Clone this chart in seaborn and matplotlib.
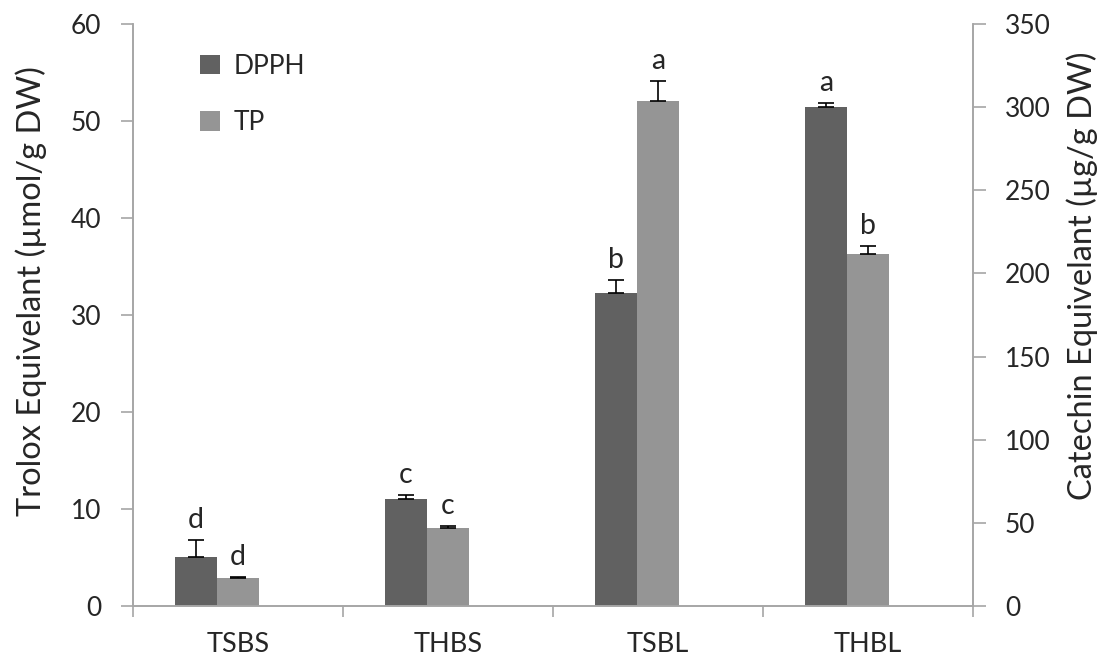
import matplotlib
matplotlib.use("Agg")
import matplotlib.pyplot as plt
import seaborn as sns
import pandas as pd
import numpy as np
from matplotlib.patches import Patch

categories = ["TSBS", "THBS", "TSBL", "THBL"]
dpph = [5.05, 11.0, 32.3, 51.4]
dpph_err = [1.75, 0.4, 1.3, 0.45]
dpph_letters = ["d", "c", "b", "a"]
tp = [16.9, 47.0, 303.7, 211.7]
tp_err = [0.6, 1.2, 12.0, 5.0]
tp_letters = ["d", "c", "a", "b"]

series_order = ["DPPH", "TP"]
# the original layout reserves an empty third slot in each group
slot_order = ["DPPH", "TP", "(empty)"]
colors = {"DPPH": "#616161", "TP": "#959595", "(empty)": "#ffffff"}

sns.set_style("white")
plt.rcParams["font.family"] = ["Lato", "DejaVu Sans"]

fig = plt.figure(figsize=(11.01, 6.64), dpi=100)
ax = fig.add_axes([133/1101, 58/664, 840/1101, 582/664])
ax2 = ax.twinx()

df1 = pd.DataFrame({"cat": categories, "val": dpph, "series": "DPPH"})
df2 = pd.DataFrame({"cat": categories, "val": tp, "series": "TP"})

sns.barplot(data=df1, x="cat", y="val", hue="series", hue_order=slot_order,
            order=categories, palette=colors, width=0.6, dodge=True, errorbar=None,
            legend=False, ax=ax, saturation=1, edgecolor="none")
sns.barplot(data=df2, x="cat", y="val", hue="series", hue_order=slot_order,
            order=categories, palette=colors, width=0.6, dodge=True, errorbar=None,
            legend=False, ax=ax2, saturation=1, edgecolor="none")

def decorate(axis, vals, errs, letters):
    bars = [p for p in axis.patches if p.get_height() > 0]
    bars = sorted(bars, key=lambda p: p.get_x())
    for p, v, e, l in zip(bars, vals, errs, letters):
        xc = p.get_x() + p.get_width() / 2
        axis.errorbar(xc, v, yerr=[[0], [e]], fmt="none", ecolor="black",
                      elinewidth=1.2, capsize=6, capthick=1.2)
        axis.annotate(l, (xc, v + e), xytext=(0, 5), textcoords="offset points",
                      ha="center", va="bottom", fontsize=20.5)

decorate(ax, dpph, dpph_err, dpph_letters)
decorate(ax2, tp, tp_err, tp_letters)

ax.set_xlim(-0.5, 3.5)
ax.set_ylim(0, 60)
ax2.set_ylim(0, 350)
ax.set_yticks(np.arange(0, 61, 10))
ax2.set_yticks(np.arange(0, 351, 50))

spine_color = "#a6a6a6"
for a in (ax, ax2):
    for s in a.spines.values():
        s.set_color(spine_color)
        s.set_linewidth(1.2)
    a.spines["top"].set_visible(False)

ax.tick_params(axis="y", direction="out", length=9, width=1.2, color=spine_color,
               labelsize=19, pad=14, left=True)
ax2.tick_params(axis="y", direction="out", length=9, width=1.2, color=spine_color,
                labelsize=19, pad=14, right=True)
ax.tick_params(axis="x", which="major", length=0, labelsize=19.5, pad=19)
ax.set_xticks(np.arange(-0.5, 3.6, 1.0), minor=True)
ax.tick_params(axis="x", which="minor", direction="out", length=8, width=1.2,
               color=spine_color, bottom=True)

ax.set_xlabel("")
ax.set_ylabel("Trolox Equivelant (µmol/g DW)", fontsize=23.5)
ax2.set_ylabel("Catechin Equivelant (µg/g DW)", fontsize=23.5, rotation=90)
ax.yaxis.set_label_coords(-0.1024, 0.541)
ax2.yaxis.set_label_coords(1.1107, 0.567)

handles = [Patch(facecolor=colors[s], edgecolor="none") for s in series_order]
ax2.legend(handles, series_order, loc="upper left", bbox_to_anchor=(0.052, 0.99),
           frameon=False, fontsize=19, handlelength=0.75, handleheight=0.75,
           labelspacing=1.2, handletextpad=0.5)

fig.savefig("out.png", dpi=100)
